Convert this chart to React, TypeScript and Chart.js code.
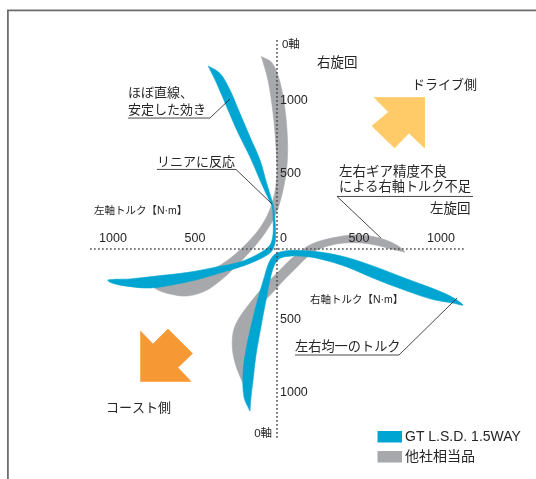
import React, { useEffect, useRef } from "react";
import { Chart, registerables } from "chart.js";

Chart.register(...registerables);

type P = [number, number];

// torque shapes in N·m (x: left(-)/right(+) axis torque, y: up/down)
const gtUpperShape: P[] = [
  [-419, 1253], [-368, 1135], [-307, 975], [-236, 792], [-165, 632], [-104, 473], [-53, 347], [-29, 288],
  [-24, 199], [-24, 103], [-43, 27], [-104, -27], [-226, -89], [-368, -123], [-531, -158], [-734, -185],
  [-896, -205], [-1031, -212], [-1006, -233], [-927, -253], [-774, -267], [-610, -240], [-451, -199],
  [-329, -158], [-207, -116], [-104, -68], [-37, -21], [-12, 41], [-9, 116], [-13, 212], [-21, 288],
  [-32, 336], [-63, 450], [-104, 610], [-165, 769], [-226, 929], [-287, 1089], [-348, 1203], [-419, 1253],
];

const gtLowerShape: P[] = [
  [-165, -1110], [-201, -1014], [-207, -849], [-189, -692], [-152, -500], [-110, -315], [-79, -199],
  [-55, -110], [-24, -48], [18, -21], [79, -10], [140, -10], [262, -21], [427, -58], [585, -116],
  [793, -205], [951, -271], [1067, -329], [1134, -384], [1073, -370], [951, -346], [793, -288],
  [585, -199], [427, -123], [262, -68], [140, -48], [61, -51], [12, -68], [-18, -116], [-43, -212],
  [-67, -349], [-98, -534], [-128, -726], [-146, -897], [-159, -1021], [-165, -1110],
];

const rivalUpperShape: P[] = [
  [-95, 1318], [-55, 1157], [-24, 931], [-6, 699], [0, 541], [-6, 438], [-24, 336], [-55, 240],
  [-104, 144], [-165, 62], [-226, -7], [-299, -75], [-378, -130], [-500, -185], [-640, -226],
  [-762, -247], [-726, -281], [-652, -308], [-549, -322], [-439, -288], [-348, -219], [-274, -144],
  [-201, -62], [-134, 21], [-73, 110], [-18, 212], [18, 322], [43, 438], [61, 575], [64, 747],
  [49, 952], [18, 1144], [-30, 1274], [-95, 1318],
];

const rivalLowerShape: P[] = [
  [781, -21], [744, 17], [671, 58], [567, 89], [463, 96], [366, 82], [262, 55], [189, 21], [140, -21],
  [79, -75], [18, -144], [-73, -247], [-165, -370], [-238, -486], [-268, -575], [-271, -692],
  [-250, -801], [-213, -904], [-183, -966], [-165, -884], [-159, -760], [-152, -623], [-128, -473],
  [-79, -363], [-18, -288], [43, -212], [110, -137], [171, -68], [232, -14], [311, 21], [409, 41],
  [518, 41], [616, 24], [707, -3], [781, -21],
];

const driveArrow: P[] = [[592, 1038], [899, 1038], [899, 692], [805, 794], [717, 692], [579, 842], [680, 938], [592, 1038]];
const coastArrow: P[] = [[-832, -562], [-756, -651], [-665, -548], [-515, -716], [-604, -812], [-524, -907], [-832, -907], [-832, -562]];

const horizontalAxis: P[] = [[-1140, 0], [1153, 0]];
const verticalAxis: P[] = [[0, 1431], [0, -1308]];

const tickValues = [500, 1000];
const zeroLabel = "0";
const legendLabels = ["GT L.S.D. 1.5WAY", "他社相当品"];

const notes = [
  { text: "0軸", x: 30, y: 1397, size: 11.5, align: "left" },
  { text: "右旋回", x: 244, y: 1274, size: 13.5, align: "left" },
  { text: "ドライブ側", x: 823, y: 1123, size: 13, align: "left" },
  { text: "ほぼ直線、", x: -909, y: 1068, size: 13, align: "left" },
  { text: "安定した効き", x: -909, y: 952, size: 13, align: "left" },
  { text: "リニアに反応", x: -732, y: 596, size: 13, align: "left" },
  { text: "左軸トルク【N·m】", x: -1116, y: 260, size: 10.5, align: "left" },
  { text: "左右ギア精度不良", x: 378, y: 527, size: 13.5, align: "left" },
  { text: "による右軸トルク不足", x: 378, y: 425, size: 13.2, align: "left" },
  { text: "左旋回", x: 933, y: 274, size: 13.5, align: "left" },
  { text: "右軸トルク【N·m】", x: 201, y: -349, size: 10.5, align: "left" },
  { text: "左右均一のトルク", x: 110, y: -671, size: 13.2, align: "left" },
  { text: "コースト側", x: -1043, y: -1089, size: 13, align: "left" },
  { text: "0軸", x: -30, y: -1267, size: 11.5, align: "right" },
];

const leaders: P[][] = [
  [[-909, 897], [-409, 897], [-287, 1027]],
  [[-732, 545], [-250, 545], [-30, 308]],
  [[1195, 360], [366, 360], [634, 75]],
  [[110, -726], [744, -726], [1098, -336]],
];

const FONT = '"Liberation Sans", "Noto Sans CJK JP", sans-serif';
const TEXT = "#262626";
const BLUE = "#00A6D1";
const GRAY = "#A7A8AB";
const YELLOW = "#FFCB69";
const ORANGE = "#F69833";

const overlay = {
  id: "overlay",
  beforeDraw(chart: any) {
    const { ctx } = chart;
    ctx.save();
    ctx.fillStyle = "#ffffff";
    ctx.fillRect(0, 0, chart.width, chart.height);
    ctx.strokeStyle = "#6e6e6e";
    ctx.lineWidth = 1.8;
    ctx.strokeRect(7.9, 10.4, 700, 700);
    ctx.restore();
  },
  afterDatasetsDraw(chart: any) {
    const { ctx } = chart;
    const xs = chart.scales.x;
    const ys = chart.scales.y;
    const px = (v: number) => xs.getPixelForValue(v);
    const py = (v: number) => ys.getPixelForValue(v);
    ctx.save();
    // leader lines
    ctx.strokeStyle = "#1c1c1c";
    ctx.lineWidth = 0.8;
    for (const l of leaders) {
      ctx.beginPath();
      l.forEach(([x, y], i) => (i ? ctx.lineTo(px(x), py(y)) : ctx.moveTo(px(x), py(y))));
      ctx.stroke();
    }
    ctx.fillStyle = TEXT;
    ctx.textBaseline = "middle";
    // tick labels
    ctx.font = `12.5px ${FONT}`;
    const x0 = px(0);
    const y0 = py(0);
    ctx.textAlign = "center";
    for (const v of tickValues) {
      ctx.fillText(String(v), px(-v), y0 - 10);
      ctx.fillText(String(v), px(v), y0 - 10);
    }
    ctx.textAlign = "left";
    ctx.fillText(zeroLabel, x0 + 3, y0 - 10);
    for (const v of tickValues) {
      ctx.fillText(String(v), x0 + 3, py(v) - 2);
      ctx.fillText(String(v), x0 + 3, py(-v) - 2);
    }
    // notes
    for (const n of notes) {
      ctx.font = `${n.size}px ${FONT}`;
      ctx.textAlign = n.align;
      ctx.fillText(n.text, px(n.x), py(n.y));
    }
    // legend
    const colors = [BLUE, GRAY];
    ctx.font = `14px ${FONT}`;
    ctx.textAlign = "left";
    legendLabels.forEach((t, i) => {
      const top = 431 + i * 20;
      ctx.fillStyle = colors[i];
      ctx.fillRect(377.5, top, 24.5, 11.5);
      ctx.fillStyle = TEXT;
      ctx.fillText(t, 405, top + 6 + i * 0.5);
    });
    ctx.restore();
  },
};

export default function App() {
  const ref = useRef<HTMLCanvasElement>(null);
  useEffect(() => {
    document.body.style.margin = "0";
    const toXY = (pts: P[]) => pts.map(([x, y]) => ({ x, y }));
    const shape = (pts: P[], color: string, order: number, tension: number) => ({
      data: toXY(pts),
      showLine: true,
      fill: "shape",
      backgroundColor: color,
      borderColor: color,
      borderWidth: 0.6,
      pointRadius: 0,
      pointHoverRadius: 0,
      tension,
      order,
    });
    const axis = (pts: P[]) => ({
      data: toXY(pts),
      showLine: true,
      fill: false,
      borderColor: "#4a4a4a",
      borderWidth: 1.5,
      borderDash: [1.6, 2.4],
      pointRadius: 0,
      pointHoverRadius: 0,
      tension: 0,
      order: 0,
    });
    const chart = new Chart(ref.current as HTMLCanvasElement, {
      type: "line",
      data: {
        datasets: [
          axis(horizontalAxis),
          axis(verticalAxis),
          shape(gtUpperShape, BLUE, 1, 0.35),
          shape(gtLowerShape, BLUE, 1, 0.35),
          shape(rivalUpperShape, GRAY, 2, 0.35),
          shape(rivalLowerShape, GRAY, 2, 0.35),
          shape(driveArrow, YELLOW, 3, 0),
          shape(coastArrow, ORANGE, 3, 0),
        ] as any,
      },
      options: {
        animation: false,
        responsive: false,
        events: [],
        layout: { padding: 0 },
        plugins: { legend: { display: false }, tooltip: { enabled: false } },
        scales: {
          x: { type: "linear", min: -1689, max: 1579.3, display: false },
          y: { type: "linear", min: -1575.3, max: 1705.5, display: false },
        },
      },
      plugins: [overlay],
    });
    return () => chart.destroy();
  }, []);
  return (
    <div style={{ position: "absolute", left: 0, top: 0, width: 536, height: 479 }}>
      <canvas ref={ref} width={536} height={479} style={{ display: "block", width: 536, height: 479 }} />
    </div>
  );
}
